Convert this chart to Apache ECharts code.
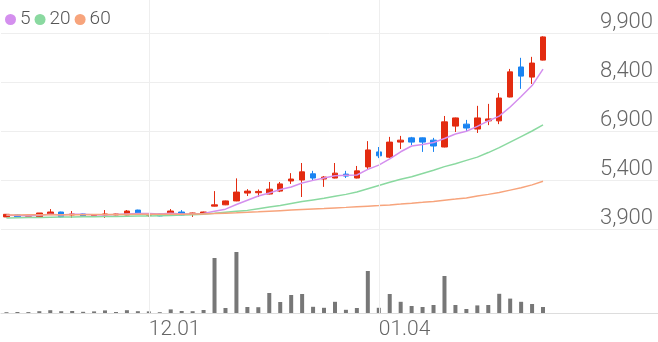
<!DOCTYPE html>
<html>
<head>
<meta charset="utf-8">
<script src="https://cdn.jsdelivr.net/npm/echarts@6/dist/echarts.min.js"></script>
<style>
html,body{margin:0;padding:0;background:#fff;}
#chart{width:658px;height:342px;}
</style>
</head>
<body>
<div id="chart"></div>
<script>
const dates = ['11.14','11.15','11.16','11.17','11.20','11.21','11.22','11.23','11.24','11.27','11.28','11.29','11.30',
  '12.01','12.04','12.05','12.06','12.07','12.08','12.11','12.12','12.13','12.14','12.15','12.18','12.19','12.20','12.21','12.22',
  '12.26','12.27','12.28','01.02','01.03','01.04','01.05','01.08','01.09','01.10','01.11','01.12',
  '01.15','01.16','01.17','01.18','01.19','01.22','01.23','01.24','01.25'];
const futureDates = ['01.26','01.29','01.30','01.31','02.01','02.02','02.05','02.06','02.07','02.08'];
const labelDates = ['12.01','01.04'];

const opens  = [4270,4330,4290,4270,4360,4420,4330,4360,4310,4330,4330,4330,4480,4320,4360,4330,4420,4360,4390,4600,
                4640,4760,5000,5010,4970,5060,5370,5400,5590,5430,5460,5580,5460,5800,6260,6100,6560,6690,6690,6620,
                6410,7050,7110,6960,7210,7210,7940,8860,8550,9070];
const closes = [4350,4270,4310,4390,4420,4270,4360,4300,4340,4360,4360,4450,4360,4340,4300,4450,4330,4390,4420,4640,
                4760,5030,5060,5050,5120,5280,5430,5650,5460,5490,5610,5520,5680,6320,6140,6560,6620,6560,6560,6440,
                7180,7300,6990,7300,7270,7910,8710,8580,8980,9780];
const lows   = [4260,4260,4280,4260,4350,4260,4240,4290,4300,4240,4320,4320,4350,4270,4290,4320,4320,4270,4380,4590,
                4630,4750,4910,4880,4960,5030,5280,4880,5370,5190,5450,5460,5450,5740,6070,6070,6350,6470,6260,6260,
                6400,6870,6900,6840,7080,7110,7930,8190,8340,9060];
const highs  = [4360,4340,4320,4390,4510,4430,4450,4370,4350,4480,4370,4480,4490,4350,4370,4510,4480,4400,4430,5060,
                4770,5450,5120,5110,5340,5340,5610,5920,5680,5520,5920,5680,5830,6590,6410,6720,6750,6720,6700,6690,
                7360,7310,7240,7670,7730,8060,8800,9140,9170,9800];
const volumes = [40000,50000,45000,90000,140000,90000,100000,60000,80000,130000,50000,140000,90000,80000,40000,180000,100000,90000,150000,2750000,
                 250000,3050000,300000,290000,1000000,550000,900000,950000,310000,260000,560000,160000,250000,2100000,260000,950000,560000,350000,300000,400000,
                 1850000,400000,200000,380000,400000,960000,720000,560000,450000,300000];
const ma5  = [4320,4312,4305,4318,4348,4332,4350,4348,4338,4326,4344,4362,4374,4374,4362,4380,4356,4362,4378,4446,
              4508,4648,4782,4908,5004,5108,5188,5306,5388,5462,5528,5546,5552,5724,5854,6044,6264,6440,6488,6548,
              6672,6808,6894,7042,7208,7354,7636,7954,8290,8792];
const ma20 = [4240,4245,4250,4255,4260,4265,4268,4272,4276,4280,4285,4290,4295,4300,4308,4315,4325,4340,4355,4380,
              4410,4440,4470,4520,4570,4620,4680,4740,4790,4840,4900,4960,5030,5130,5230,5330,5420,5500,5600,5700,
              5810,5900,6000,6100,6240,6390,6560,6730,6900,7090];
const ma60 = [4330,4331,4333,4334,4336,4337,4339,4340,4342,4343,4345,4346,4348,4350,4352,4353,4355,4357,4360,4372,
              4385,4398,4412,4428,4445,4462,4478,4495,4512,4528,4545,4562,4580,4598,4616,4638,4662,4688,4716,4745,
              4780,4815,4852,4910,4960,5020,5090,5160,5250,5360];
const priceMin = 3900, priceMax = 9900, priceStep = 1500;
const maNames = ['5','20','60'];

const allDates = dates.concat(futureDates);
const candleData = opens.map((o, i) => [o, closes[i], lows[i], highs[i]]);

const UP = '#e32b10', DOWN = '#1a84f2';
const FONT = 'Roboto';

const chart = echarts.init(document.getElementById('chart'), null, {renderer: 'canvas'});
chart.setOption({
  animation: false,
  backgroundColor: '#ffffff',
  legend: {
    data: maNames,
    left: 0, top: 5,
    icon: 'circle', itemWidth: 11, itemHeight: 11, itemGap: 4,
    textStyle: {fontFamily: FONT, fontWeight: 300, fontSize: 19, color: '#555555', padding: [0,0,0,-1]}
  },
  grid: [
    {left: 1, right: 0, top: 33, bottom: 113},
    {left: 1, right: 0, top: 245, bottom: 29},
    {left: 1, right: 0, top: 0, bottom: 29}
  ],
  xAxis: [
    {type: 'category', gridIndex: 0, data: allDates, boundaryGap: true, show: false},
    {type: 'category', gridIndex: 1, data: allDates, boundaryGap: true, show: false},
    {type: 'category', gridIndex: 2, data: allDates, boundaryGap: true,
     axisLine: {show: true, lineStyle: {color: '#dddddd', width: 1}},
     axisTick: {show: false},
     splitLine: {show: false},
     axisLabel: {
       interval: (idx, val) => labelDates.indexOf(val) >= 0,
       align: 'left', margin: 6,
       fontFamily: FONT, fontWeight: 300, fontSize: 21, color: '#666666'
     }}
  ],
  yAxis: [
    {type: 'value', gridIndex: 0, position: 'right', min: priceMin, max: priceMax, interval: priceStep,
     axisLine: {show: false}, axisTick: {show: false},
     splitLine: {show: true, lineStyle: {color: '#eeeeee', width: 1}},
     axisLabel: {inside: true, margin: 5, verticalAlign: 'bottom', fontFamily: FONT, fontWeight: 300, fontSize: 22, color: '#666666',
       formatter: v => v.toLocaleString('en-US')}},
    {type: 'value', gridIndex: 1, min: 0, max: 3400000, show: false, splitLine: {show: false}},
    {type: 'value', gridIndex: 2, min: 0, max: 1, show: false, splitLine: {show: false}}
  ],
  series: [
    {type: 'line', name: 'grid', xAxisIndex: 2, yAxisIndex: 2, data: [], silent: true,
     markLine: {silent: true, symbol: 'none', label: {show: false},
       lineStyle: {color: '#eeeeee', width: 1, type: 'solid'},
       data: labelDates.map(d => ({xAxis: d}))}},
    {type: 'candlestick', name: 'price', xAxisIndex: 0, yAxisIndex: 0, data: candleData, barWidth: 6,
     itemStyle: {color: UP, color0: DOWN, borderColor: UP, borderColor0: DOWN, borderWidth: 1}},
    {type: 'line', name: '5', xAxisIndex: 0, yAxisIndex: 0, data: ma5, showSymbol: false, symbol: 'none',
     color: '#d48fee', lineStyle: {width: 1.5, color: '#d48fee'}},
    {type: 'line', name: '20', xAxisIndex: 0, yAxisIndex: 0, data: ma20, showSymbol: false, symbol: 'none',
     color: '#8ad9a0', lineStyle: {width: 1.5, color: '#8ad9a0'}},
    {type: 'line', name: '60', xAxisIndex: 0, yAxisIndex: 0, data: ma60, showSymbol: false, symbol: 'none',
     color: '#f7a47c', lineStyle: {width: 1.5, color: '#f7a47c'}},
    {type: 'bar', name: 'volume', xAxisIndex: 1, yAxisIndex: 1, data: volumes, barWidth: 4,
     itemStyle: {color: '#777777'}}
  ]
});
</script>
</body>
</html>
